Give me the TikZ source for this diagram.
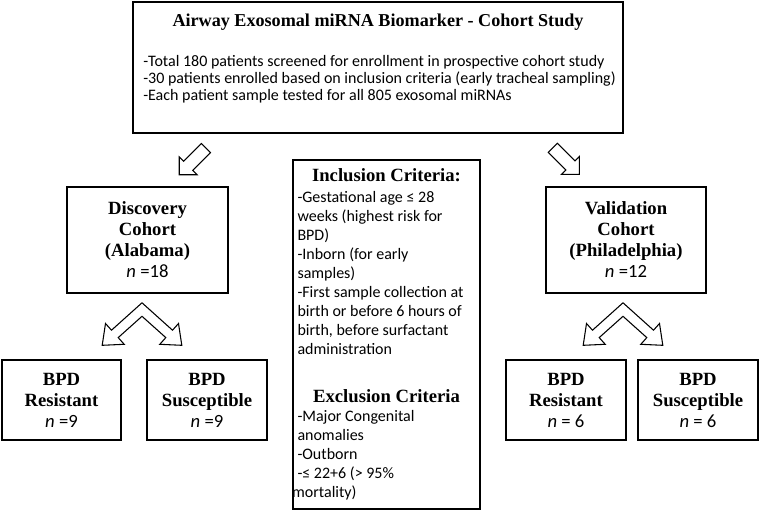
\documentclass[tikz,border=0pt]{standalone}
\usepackage{fontspec}
\setmainfont{Carlito}
\newfontfamily\serifhead{Liberation Serif}
\usetikzlibrary{calc}
\newdimen\px \px=0.75pt
\newcommand{\hdfont}{\serifhead\bfseries}

\begin{document}
\begin{tikzpicture}[x=0.75pt,y=-0.75pt,
    box/.style={draw, line width=1.2pt, align=center, inner sep=0pt,
      font=\fontsize{14}{15.75}\selectfont},
    blockarrow/.pic={\draw[line width=0.8pt] (0,-6.4) -- (25,-6.4) -- (25,-12.7) -- (37.7,0)
      -- (25,12.7) -- (25,6.4) -- (0,6.4) -- cycle;},
    splitarrow/.pic={\draw[line width=0.8pt] (0,0) -- (-30.5,27.4) -- (-36.5,20.7) -- (-39.8,42.5)
      -- (-17.8,41.5) -- (-23.8,34.8) -- (0,13.5) -- (23.8,34.8) -- (17.8,41.5)
      -- (39.8,42.5) -- (36.5,20.7) -- (30.5,27.4) -- cycle;}]
  \useasboundingbox (0,0) rectangle (760,521);

  % study overview
  \node[box, minimum width=490\px, minimum height=131\px] (study) at (378,67.5) {};
  \node[font=\hdfont\fontsize{13.6}{16}\selectfont, inner sep=0pt] (title) at (378,22)
    {Airway Exosomal miRNA Biomarker - Cohort Study};
  \node[anchor=west, align=flush left, inner sep=0pt, font=\fontsize{12}{12.75}\selectfont] (aims) at (143,79)
    {-Total 180 patients screened for enrollment in prospective cohort study\\
     -30 patients enrolled based on inclusion criteria (early tracheal sampling)\\
     -Each patient sample tested for all 805 exosomal miRNAs};

  % cohorts
  \node[box, minimum width=161\px, minimum height=106\px] (disc) at (147.5,240)
    {\hdfont Discovery\\\hdfont Cohort\\\hdfont (Alabama)\\\textit{n} =18};
  \node[box, minimum width=160\px, minimum height=106\px] (valid) at (626,240)
    {\hdfont Validation\\\hdfont Cohort\\\hdfont (Philadelphia)\\\textit{n} =12};

  % criteria
  \node[box, minimum width=187\px, minimum height=349\px, text width=178\px, align=flush left,
    font=\fontsize{12}{14.25}\selectfont] (crit) at (386.5,334.5)
    {\makebox[178\px]{\hdfont\fontsize{14}{14.25}\selectfont Inclusion Criteria:}\\[1pt]
     -Gestational age ≤ 28\\
     weeks (highest risk for\\
     BPD)\\
     -Inborn (for early\\
     samples)\\
     -First sample collection at\\
     birth or before 6 hours of\\
     birth, before surfactant\\
     administration\\[22pt]
     \makebox[178\px]{\hdfont\fontsize{14}{14.25}\selectfont Exclusion Criteria}\\
     -Major Congenital\\
     anomalies\\
     -Outborn\\
     -≤ 22+6 (> 95\%\\
     \hspace*{-4pt}mortality)};

  % subgroups
  \node[box, minimum width=119\px, minimum height=80\px] (res1) at (61.5,400)
    {\hdfont BPD\\\hdfont Resistant\\\textit{n} =9};
  \node[box, minimum width=120\px, minimum height=80\px] (sus1) at (207,400)
    {\hdfont BPD\\\hdfont Susceptible\\\textit{n} =9};
  \node[box, minimum width=120\px, minimum height=80\px] (res2) at (566,400)
    {\hdfont BPD\\\hdfont Resistant\\\textit{n} = 6};
  \node[box, minimum width=120\px, minimum height=80\px] (sus2) at (698,400)
    {\hdfont BPD\\\hdfont Susceptible\\\textit{n} = 6};

  % arrows
  \pic[rotate=225] at ($(study.south west)+(73.7,14.3)$) {blockarrow};
  \pic[rotate=-45] at ($(study.south east)+(-71,14)$) {blockarrow};
  \pic at ($(disc.south)+(-5.5,9)$) {splitarrow};
  \pic at ($(valid.south)+(-3,9)$) {splitarrow};
\end{tikzpicture}
\end{document}
